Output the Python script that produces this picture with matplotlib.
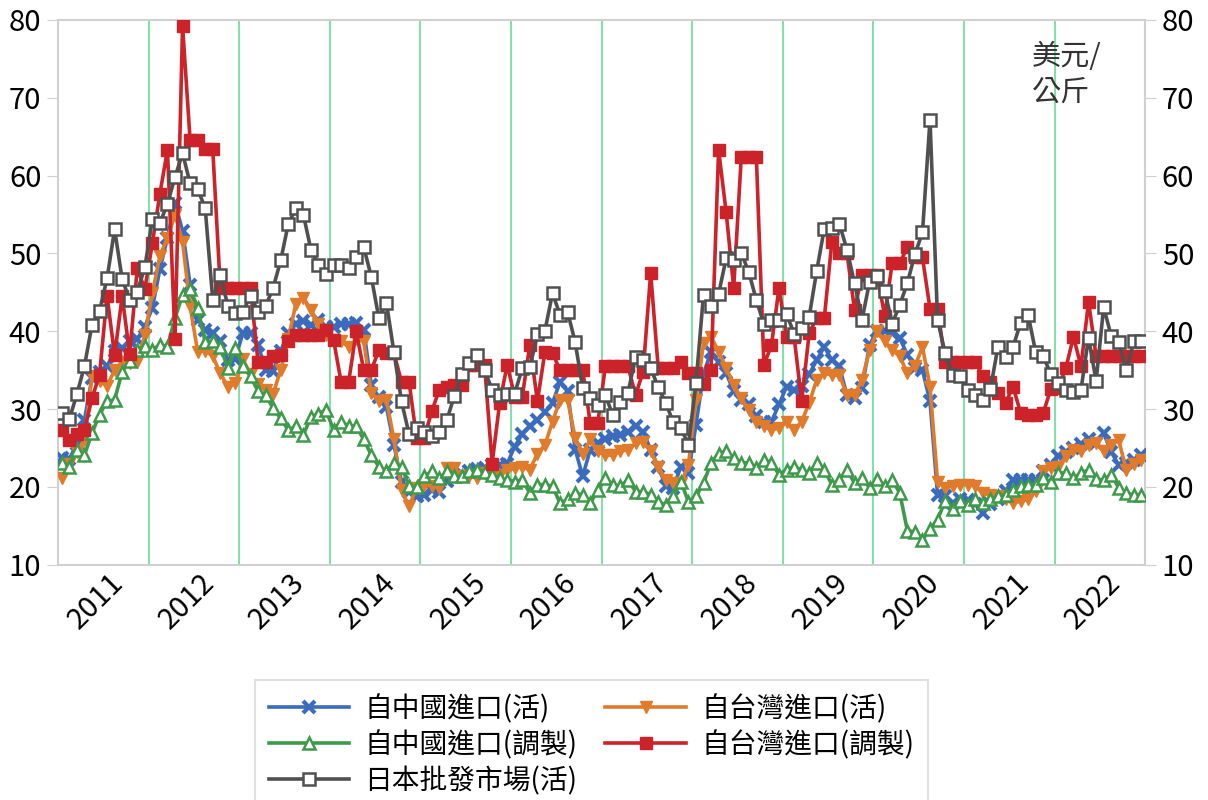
import numpy as np
import matplotlib
matplotlib.use('Agg')
import matplotlib.pyplot as plt
import matplotlib.transforms as mtransforms

plt.rcParams['font.family'] = ['Noto Sans CJK TC', 'DejaVu Sans']

years = list(range(2011, 2023))

# monthly prices (USD/kg), Jan 2011 .. Dec 2022, one row per year
cn_live = [
    23.7, 23.6, 25.5, 28.6, 34.0, 34.8, 35.5, 37.5, 37.8, 38.7, 39.0, 40.6,
    43.0, 48.0, 52.0, 56.5, 52.9, 46.0, 41.5, 40.2, 39.8, 38.7, 36.3, 36.5,
    39.8, 39.8, 38.3, 35.0, 34.9, 37.5, 39.8, 41.0, 41.3, 40.8, 41.5, 40.5,
    40.6, 41.0, 41.0, 41.1, 40.2, 33.1, 31.5, 30.3, 25.4, 20.7, 19.4, 18.8,
    19.0, 19.6, 19.4, 20.8, 21.5, 21.6, 22.0, 22.3, 22.5, 22.8, 22.8, 23.0,
    25.2, 26.8, 27.8, 28.6, 29.6, 30.8, 33.5, 32.3, 24.8, 21.4, 24.8, 25.6,
    26.1, 26.6, 26.7, 27.1, 27.8, 27.1, 24.8, 22.6, 20.1, 19.9, 22.6, 21.8,
    28.0, 34.5, 37.4, 36.0, 34.6, 32.3, 31.2, 30.6, 29.1, 28.4, 28.4, 30.6,
    32.9, 32.5, 33.0, 34.5, 36.3, 38.0, 36.3, 35.5, 31.8, 31.4, 32.7, 38.3,
    40.0, 40.0, 39.8, 39.1, 37.0, 35.3, 35.0, 31.0, 19.0, 18.8, 18.0, 18.5,
    18.3, 17.8, 16.6, 17.8, 18.5, 19.5, 20.9, 20.9, 20.9, 20.9, 22.0, 22.8,
    24.0, 24.5, 25.0, 25.5, 26.2, 25.6, 26.9, 24.5, 22.8, 23.1, 23.5, 24.1,
]
tw_live = [
    21.1, 23.0, 24.5, 26.0, 34.3, 33.6, 33.0, 35.0, 36.1, 35.9, 36.1, 39.5,
    44.9, 49.7, 52.0, 55.0, 51.5, 43.2, 37.4, 37.5, 36.8, 34.6, 32.9, 33.3,
    36.4, 34.5, 33.2, 32.5, 32.0, 35.0, 39.0, 43.5, 44.3, 42.8, 41.0, 39.5,
    38.9, 38.7, 38.0, 39.0, 38.7, 32.1, 31.0, 31.2, 26.1, 19.6, 17.5, 19.9,
    20.3, 20.1, 19.9, 22.4, 22.4, 21.4, 21.4, 21.1, 21.8, 22.0, 21.6, 22.2,
    22.4, 22.6, 22.2, 24.3, 25.4, 28.4, 31.2, 31.2, 26.3, 24.3, 26.1, 24.6,
    24.1, 24.1, 24.6, 24.8, 25.6, 25.8, 24.6, 22.6, 20.9, 20.5, 20.5, 22.8,
    31.2, 38.5, 39.3, 37.4, 35.3, 33.1, 31.4, 29.9, 28.4, 27.8, 27.3, 27.6,
    28.4, 27.3, 28.4, 30.8, 33.8, 34.6, 34.4, 34.4, 31.8, 31.8, 33.8, 37.6,
    40.0, 38.7, 37.6, 36.8, 34.6, 35.5, 38.0, 32.9, 20.7, 19.9, 20.1, 20.3,
    20.3, 20.1, 19.2, 19.0, 18.8, 18.4, 17.9, 18.2, 18.4, 19.5, 22.0, 22.4,
    22.6, 24.0, 24.8, 24.6, 25.4, 25.6, 24.6, 25.4, 26.0, 22.2, 23.0, 23.5,
]
cn_proc = [
    23.1, 22.6, 24.8, 24.1, 26.9, 29.3, 31.0, 31.2, 34.8, 36.2, 37.6, 38.1,
    37.6, 38.3, 38.0, 41.7, 44.7, 45.5, 43.0, 38.6, 38.7, 38.0, 35.3, 37.8,
    35.5, 34.2, 32.3, 31.8, 30.1, 28.8, 27.3, 27.8, 26.7, 29.0, 29.4, 29.9,
    27.3, 28.4, 27.8, 27.8, 26.1, 24.1, 22.6, 22.0, 23.1, 22.6, 20.1, 20.0,
    21.4, 22.0, 21.1, 22.0, 21.4, 21.4, 22.0, 22.2, 21.9, 21.6, 21.1, 20.9,
    20.7, 20.9, 19.2, 20.3, 20.3, 20.1, 17.9, 18.4, 19.2, 19.0, 17.9, 19.6,
    21.1, 20.3, 20.1, 20.9, 19.4, 19.4, 19.0, 18.1, 17.7, 18.8, 20.7, 18.1,
    18.8, 20.5, 23.1, 24.3, 24.6, 23.7, 23.1, 23.1, 22.4, 23.5, 23.1, 21.6,
    22.2, 22.6, 22.2, 21.8, 23.1, 22.2, 20.3, 20.9, 22.2, 20.5, 21.1, 19.9,
    21.0, 20.1, 20.9, 19.2, 14.4, 14.2, 13.2, 14.6, 15.8, 18.2, 17.2, 18.2,
    17.7, 18.4, 17.9, 18.4, 18.8, 19.0, 19.6, 20.1, 20.3, 20.3, 21.1, 20.7,
    21.8, 21.8, 21.1, 21.8, 22.2, 21.0, 20.9, 21.6, 19.9, 19.2, 19.0, 19.0,
]
tw_proc = [
    27.3, 26.0, 26.8, 27.3, 31.4, 34.4, 44.6, 36.9, 44.5, 37.1, 48.1, 45.4,
    51.3, 57.7, 63.3, 39.0, 79.2, 64.6, 64.6, 63.4, 63.4, 45.6, 45.6, 45.6,
    45.6, 45.6, 36.0, 36.0, 36.8, 36.9, 38.7, 39.5, 39.5, 39.5, 39.5, 40.2,
    38.9, 33.5, 33.5, 40.0, 35.0, 35.0, 37.6, 37.2, 37.2, 33.5, 33.5, 26.3,
    26.3, 29.7, 32.5, 32.9, 33.1, 33.1, 35.7, 35.7, 35.7, 23.0, 30.8, 35.7,
    31.6, 31.6, 38.3, 31.0, 37.4, 37.2, 35.0, 35.0, 35.0, 35.0, 28.2, 28.2,
    35.5, 35.5, 35.5, 35.5, 31.8, 34.8, 47.5, 35.3, 35.3, 35.3, 36.1, 34.6,
    34.6, 33.2, 35.0, 63.3, 55.3, 45.6, 62.4, 62.4, 62.4, 35.7, 38.2, 45.6,
    39.3, 39.3, 31.0, 39.8, 41.7, 41.7, 51.5, 50.1, 50.1, 42.8, 47.2, 47.2,
    47.2, 42.0, 48.8, 48.8, 50.8, 49.5, 49.5, 42.9, 42.9, 36.1, 36.1, 36.1,
    36.1, 36.1, 34.2, 33.5, 32.1, 30.8, 32.9, 29.5, 29.3, 29.3, 29.5, 32.6,
    32.7, 35.3, 39.3, 35.5, 43.8, 36.8, 36.8, 36.8, 36.8, 36.8, 36.8, 36.8,
]
jp_live = [
    29.5, 28.7, 31.9, 35.5, 40.8, 42.6, 46.8, 53.1, 46.7, 44.0, 45.1, 48.2,
    54.4, 53.9, 56.4, 59.8, 62.9, 59.0, 58.3, 55.8, 44.0, 47.2, 43.3, 42.3,
    42.5, 44.6, 42.5, 43.2, 45.6, 49.1, 53.8, 55.8, 55.0, 50.5, 48.5, 47.4,
    48.5, 48.5, 48.1, 49.5, 50.8, 47.0, 41.7, 43.7, 37.3, 31.0, 26.8, 27.6,
    27.1, 26.6, 27.1, 28.6, 31.7, 34.5, 35.9, 36.9, 35.0, 32.5, 31.8, 31.9,
    32.0, 35.3, 35.4, 39.6, 40.1, 44.9, 42.1, 42.5, 38.6, 32.7, 31.4, 30.5,
    31.8, 29.2, 30.9, 32.1, 36.7, 36.3, 35.3, 32.8, 30.8, 28.3, 27.6, 25.4,
    33.3, 44.7, 43.2, 44.8, 49.4, 49.1, 50.1, 47.6, 44.0, 40.9, 41.4, 41.5,
    42.2, 39.7, 40.4, 41.9, 47.8, 53.2, 53.3, 53.8, 50.5, 46.2, 41.5, 46.4,
    47.1, 45.2, 41.0, 43.4, 46.2, 49.9, 52.7, 67.2, 41.5, 37.2, 34.4, 34.3,
    32.5, 31.8, 31.2, 32.6, 38.0, 36.7, 38.0, 41.1, 42.1, 37.3, 36.8, 34.5,
    33.4, 32.4, 32.2, 32.5, 39.2, 33.6, 43.1, 39.4, 38.6, 35.0, 38.7, 38.8,
]

labels = ['自中國進口(活)', '自中國進口(調製)', '日本批發市場(活)',
          '自台灣進口(活)', '自台灣進口(調製)']

x = np.arange(len(jp_live))

fig = plt.figure(figsize=(12.08, 8.0), dpi=100)
ax = fig.add_axes([0.048, 0.294, 0.900, 0.681])

lw = 2.6
h_cn, = ax.plot(x, cn_live, color='#3a6bbd', lw=lw, marker='x', ms=8, mew=3, zorder=3)
h_tw, = ax.plot(x, tw_live, color='#e07b2b', lw=lw, marker='v', ms=9, zorder=4)
h_cnp, = ax.plot(x, cn_proc, color='#3e9a4a', lw=lw, marker='^', ms=9, mew=1.8,
                 mfc='white', zorder=5)
h_twp, = ax.plot(x, tw_proc, color='#cc2229', lw=lw, marker='s', ms=8, zorder=6)
h_jp, = ax.plot(x, jp_live, color='#505050', lw=lw, marker='s', ms=8, mew=1.8,
                mfc='white', zorder=7)

for k in range(1, len(years)):
    ax.axvline(12 * k - 0.5, color='#66dd99', lw=1.2, zorder=1)

ax.set_xlim(-0.5, len(x) - 0.5)
ax.set_ylim(10, 80)
ax.set_yticks(range(10, 81, 10))
ax.set_xticks([12 * k + 5.5 for k in range(len(years))])
ax.set_xticklabels([str(y) for y in years], rotation=45, ha='right',
                   va='center', rotation_mode='anchor')
ax.tick_params(axis='x', length=0, labelsize=21, pad=14)
ax.tick_params(axis='y', length=8, color='#d0d0d0', labelsize=21, pad=4,
               right=True, labelright=True)
offset = mtransforms.ScaledTranslation(0.16, 0.06, fig.dpi_scale_trans)
for lab in ax.get_xticklabels():
    lab.set_transform(lab.get_transform() + offset)
for sp in ax.spines.values():
    sp.set_color('#d0d0d0')
    sp.set_linewidth(1.5)

ax.text(0.896, 0.96, '美元/\n公斤', transform=ax.transAxes, fontsize=21,
        ha='left', va='top', color='#333333', linespacing=1.25)

leg = fig.legend([h_cn, h_cnp, h_jp, h_tw, h_twp], labels, ncol=2,
                 loc='upper left', bbox_to_anchor=(0.211, 0.15),
                 borderaxespad=0,
                 fontsize=20, frameon=True, fancybox=False, edgecolor='#d9d9d9',
                 handlelength=2.9, handletextpad=0.55, columnspacing=1.0,
                 labelspacing=0.22, borderpad=0.5)
leg.get_frame().set_linewidth(1.5)

fig.savefig('out.png', dpi=100)
